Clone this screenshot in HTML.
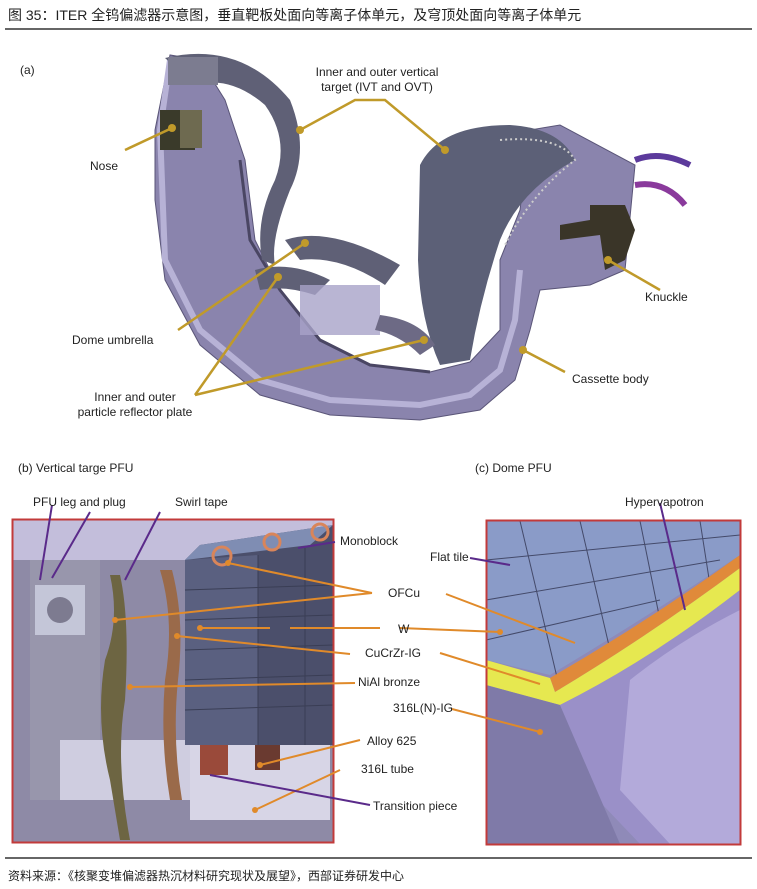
<!DOCTYPE html>
<html><head><meta charset="utf-8"><style>
html,body{margin:0;padding:0;background:#fff;}
body{width:757px;height:889px;overflow:hidden;position:relative;font-family:"Liberation Sans","Noto Sans CJK SC",sans-serif;}
svg{position:absolute;left:0;top:0;}
</style></head><body>
<svg width="757" height="889" viewBox="0 0 757 889" xmlns="http://www.w3.org/2000/svg" font-family="Liberation Sans, Noto Sans CJK SC, sans-serif">
<text x="8" y="20" font-size="14" fill="#222">图 35：ITER 全钨偏滤器示意图，垂直靶板处面向等离子体单元，及穹顶处面向等离子体单元</text>
<line x1="5" y1="29" x2="752" y2="29" stroke="#333" stroke-width="1.5"/>

<!-- (a) cassette -->
<text x="20" y="74" font-size="12" fill="#222">(a)</text>
<path d="M155,130 L155,200 L165,280 L200,345 L260,395 L330,415 L420,420 L480,410 L515,380 L530,330 L540,290 L590,285 L625,270 L635,165 L560,125 L530,130 L520,210 L500,260 L500,330 L470,362 L430,372 L370,365 L320,340 L280,290 L255,240 L245,160 L225,100 L200,60 L170,55 Z" fill="#8a84ad" stroke="#5a5578"/>
<path d="M170,60 L160,130 L165,260 L200,330 L260,380 L330,400 L420,405 L470,395 L500,370 L515,320 L520,270" fill="none" stroke="#b7b2d6" stroke-width="6"/>
<path d="M240,160 L250,240 L280,290 L320,340 L370,365 L430,372" fill="none" stroke="#4a4663" stroke-width="3"/>
<!-- left target -->
<path d="M165,58 Q240,40 290,100 Q310,150 290,190 Q270,240 275,265 L262,260 Q255,220 275,180 Q290,140 265,105 Q230,75 195,85 Z" fill="#5f6076"/>
<rect x="168" y="57" width="50" height="28" fill="#7c7c90"/>
<!-- right target -->
<path d="M420,165 Q440,125 510,125 Q560,128 575,160 Q520,190 500,240 Q480,300 470,360 L440,365 Q420,320 418,260 Z" fill="#5c6077"/>
<path d="M500,140 Q560,135 575,160 Q530,195 505,245" fill="none" stroke="#ccc" stroke-width="2" stroke-dasharray="2 3"/>
<!-- dome -->
<path d="M285,240 Q330,225 400,265 L385,285 Q340,255 300,260 Z" fill="#5f6076"/>
<path d="M255,270 Q290,260 330,280 L315,295 Q285,285 260,290 Z" fill="#5f6076"/>
<rect x="300" y="285" width="80" height="50" fill="#a7a3c8" opacity="0.8"/>
<path d="M380,315 Q420,320 435,345 L420,355 Q400,335 375,330 Z" fill="#6d6a85"/>
<!-- nose & knuckle -->
<rect x="160" y="110" width="35" height="40" fill="#3a3a2a"/>
<rect x="180" y="110" width="22" height="38" fill="#6e6a50"/>
<path d="M590,205 L625,205 L635,230 L625,260 L605,270 L600,235 L560,240 L560,225 L590,220 Z" fill="#3a3528"/>
<path d="M635,160 Q660,150 690,165" stroke="#5c3a9c" stroke-width="6" fill="none"/>
<path d="M635,185 Q665,180 685,205" stroke="#8a3a9c" stroke-width="6" fill="none"/>
<!-- leaders a -->
<g stroke="#c09a2a" stroke-width="2.5" fill="none">
<polyline points="300,130 355,100 385,100 445,150"/>
<line x1="125" y1="150" x2="172" y2="128"/>
<line x1="660" y1="290" x2="608" y2="260"/>
<line x1="178" y1="330" x2="305" y2="243"/>
<polyline points="195,395 278,277"/>
<polyline points="195,395 424,340"/>
<line x1="565" y1="372" x2="523" y2="350"/>
</g>
<g fill="#c09a2a"><circle cx="300" cy="130" r="4"/><circle cx="445" cy="150" r="4"/><circle cx="172" cy="128" r="4"/><circle cx="608" cy="260" r="4"/><circle cx="305" cy="243" r="4"/><circle cx="278" cy="277" r="4"/><circle cx="424" cy="340" r="4"/><circle cx="523" cy="350" r="4"/></g>
<g font-size="12" fill="#222">
<text x="377" y="76" text-anchor="middle">Inner and outer vertical</text>
<text x="377" y="91" text-anchor="middle">target (IVT and OVT)</text>
<text x="90" y="170">Nose</text>
<text x="645" y="301">Knuckle</text>
<text x="72" y="344">Dome  umbrella</text>
<text x="135" y="401" text-anchor="middle">Inner and outer</text>
<text x="135" y="416" text-anchor="middle">particle reflector plate</text>
<text x="572" y="383">Cassette body</text>
<text x="18" y="472">(b) Vertical targe PFU</text>
<text x="475" y="472">(c) Dome PFU</text>
</g>

<!-- (b) box -->
<rect x="13" y="520" width="320" height="322" fill="#8e8aa6"/>
<rect x="13" y="520" width="320" height="40" fill="#c3bedb"/>
<rect x="30" y="560" width="70" height="240" fill="#9b98ae" opacity="0.8"/>
<rect x="35" y="585" width="50" height="50" fill="#c4c6d8"/>
<circle cx="60" cy="610" r="13" fill="#7d7b90"/>
<path d="M60,740 L60,800 L280,800 L280,780 Q270,740 230,740 Z" fill="#cfcde0"/>
<rect x="190" y="740" width="140" height="80" fill="#d7d5e6"/>
<path d="M185,560 L200,545 L333,525 L333,745 L185,745 Z" fill="#4b4f6b"/>
<path d="M185,560 L310,545 L333,525 L200,545 Z" fill="#7f8db3"/>
<path d="M185,560 L258,555 L258,745 L185,745 Z" fill="#5a6080"/>
<g stroke="#3a3e55" stroke-width="1"><line x1="185" y1="590" x2="333" y2="585"/><line x1="185" y1="620" x2="333" y2="615"/><line x1="185" y1="650" x2="333" y2="645"/><line x1="185" y1="680" x2="333" y2="675"/><line x1="185" y1="710" x2="333" y2="705"/><line x1="258" y1="555" x2="258" y2="745"/><line x1="305" y1="548" x2="305" y2="745"/></g>
<g fill="none" stroke="#d9855a" stroke-width="3"><circle cx="222" cy="556" r="9"/><circle cx="272" cy="542" r="8"/><circle cx="320" cy="532" r="8"/></g>
<path d="M110,575 Q120,620 105,660 Q95,720 110,780 L120,840 L130,840 Q115,760 125,700 Q130,620 120,575 Z" fill="#6d6542"/>
<path d="M160,570 Q175,620 165,680 Q160,740 170,800 L182,800 Q172,740 178,680 Q185,620 172,570 Z" fill="#9a6a4a"/>
<rect x="200" y="745" width="28" height="30" fill="#9a4a3a"/>
<rect x="255" y="745" width="25" height="25" fill="#6a3a30"/>
<rect x="12.5" y="519.5" width="321" height="323" fill="none" stroke="#c23a3a" stroke-width="2"/>

<!-- (c) box -->
<rect x="486" y="521" width="254" height="323" fill="#8f8ab8"/>
<path d="M486,521 L740,521 L740,555 Q650,615 550,675 L486,660 Z" fill="#8a9bc8"/>
<g stroke="#444a6a" stroke-width="1"><line x1="520" y1="521" x2="560" y2="690"/><line x1="580" y1="521" x2="610" y2="650"/><line x1="640" y1="521" x2="660" y2="620"/><line x1="700" y1="521" x2="710" y2="585"/><line x1="486" y1="560" x2="740" y2="535"/><line x1="486" y1="600" x2="720" y2="560"/><line x1="486" y1="640" x2="660" y2="600"/></g>
<path d="M550,678 Q650,620 740,555 L740,568 Q650,635 555,692 Z" fill="#e08a3a"/>
<path d="M486,660 L550,678 L555,692 Q650,635 740,568 L740,590 Q650,660 560,705 L486,685 Z" fill="#e6e850"/>
<path d="M560,705 Q650,660 740,590 L740,844 L640,844 L560,760 Z" fill="#9a90c8"/>
<path d="M630,680 Q680,640 740,610 L740,844 L670,844 L620,790 Z" fill="#b3aada"/>
<path d="M486,685 L560,705 L620,844 L486,844 Z" fill="#7f7aa8"/>
<rect x="486.5" y="520.5" width="254" height="324" fill="none" stroke="#c23a3a" stroke-width="2"/>

<!-- leaders b/c -->
<g stroke="#e08a2a" stroke-width="2" fill="none">
<polyline points="228,563 372,593"/><polyline points="115,620 372,593"/>
<line x1="200" y1="628" x2="270" y2="628"/><line x1="290" y1="628" x2="380" y2="628"/>
<polyline points="177,636 350,654"/>
<line x1="130" y1="687" x2="355" y2="683"/>
<line x1="260" y1="765" x2="360" y2="740"/>
<line x1="255" y1="810" x2="340" y2="770"/>
<line x1="446" y1="594" x2="575" y2="643"/>
<line x1="400" y1="628" x2="500" y2="632"/>
<line x1="440" y1="653" x2="540" y2="684"/>
<line x1="452" y1="709" x2="540" y2="732"/>
</g>
<g fill="#e08a2a"><circle cx="228" cy="563" r="3"/><circle cx="115" cy="620" r="3"/><circle cx="200" cy="628" r="3"/><circle cx="177" cy="636" r="3"/><circle cx="130" cy="687" r="3"/><circle cx="260" cy="765" r="3"/><circle cx="255" cy="810" r="3"/><circle cx="500" cy="632" r="3"/><circle cx="540" cy="732" r="3"/></g>
<g stroke="#5a2a8a" stroke-width="2" fill="none">
<line x1="40" y1="580" x2="52" y2="505"/><line x1="52" y1="578" x2="90" y2="512"/>
<line x1="125" y1="580" x2="160" y2="512"/>
<line x1="298" y1="548" x2="335" y2="542"/>
<line x1="470" y1="558" x2="510" y2="565"/>
<line x1="210" y1="775" x2="370" y2="805"/>
<line x1="660" y1="503" x2="685" y2="610"/>
</g>
<g font-size="12" fill="#222">
<text x="33" y="506">PFU leg and plug</text>
<text x="175" y="506">Swirl tape</text>
<text x="340" y="545">Monoblock</text>
<text x="388" y="597">OFCu</text>
<text x="398" y="633">W</text>
<text x="365" y="657">CuCrZr-IG</text>
<text x="358" y="686">NiAl bronze</text>
<text x="367" y="745">Alloy 625</text>
<text x="361" y="773">316L tube</text>
<text x="373" y="810">Transition piece</text>
<text x="430" y="561">Flat tile</text>
<text x="393" y="712">316L(N)-IG</text>
<text x="625" y="506">Hypervapotron</text>
</g>

<line x1="5" y1="858" x2="752" y2="858" stroke="#333" stroke-width="1.5"/>
<text x="8" y="880" font-size="12" fill="#222">资料来源：《核聚变堆偏滤器热沉材料研究现状及展望》，西部证券研发中心</text>
</svg>
</body></html>
